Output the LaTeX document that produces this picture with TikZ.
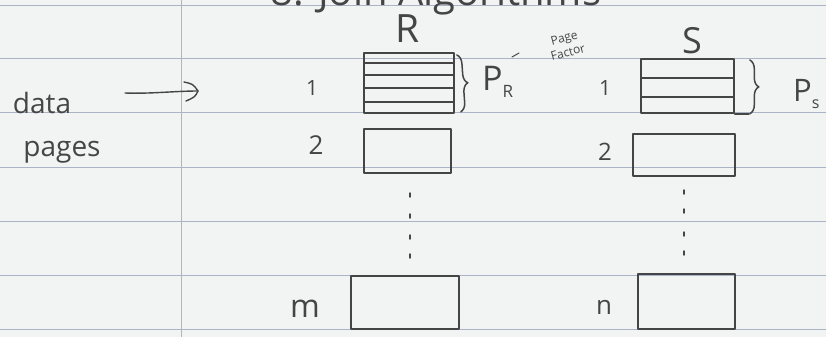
\documentclass[tikz,border=0pt]{standalone}
\usepackage{fontspec}
\setmainfont{Open Sans}
\usetikzlibrary{decorations.pathreplacing}
\definecolor{paper}{HTML}{F1F4F3}
\definecolor{rulecol}{HTML}{AAB4C6}
\definecolor{margincol}{HTML}{EE9C9C}
\definecolor{pencil}{HTML}{454545}
\tikzset{
  pen/.style={draw=pencil, line width=1.8pt, line cap=round, line join=round},
  pagebox/.style={pen, rectangle, inner sep=0pt, anchor=north west},
  hand/.style={text=pencil, inner sep=0pt},
  rowline/.style={draw=pencil, line width=1.3pt},
  bracemark/.style={pen, line width=1.5pt, decorate, decoration={brace, amplitude=9pt}},
  dotmark/.style={pen, line width=1.5pt},
  fs/.style={font=\fontsize{#1}{#1}\selectfont}
}
\begin{document}
\begin{tikzpicture}[x=1pt,y=-1pt]
\useasboundingbox (0,0) rectangle (826,337);
\clip (0,0) rectangle (826,337);
% paper
\fill[paper] (0,0) rectangle (826,337);
\foreach \yy in {5,58,112,167,221,275,329}
  \draw[rulecol, line width=0.9pt] (0,\yy) -- (826,\yy);
\draw[margincol, line width=0.9pt] (181,0) -- (181,337);

% title (cut off at the top, as in the scan)
\node[hand, fs=40, anchor=base] (title) at (436,6) {8. Join Algorithms};

% left label and arrow
\node[hand, fs=28, anchor=base] (data) at (42,113) {data};
\node[hand, fs=28, anchor=base] (pages) at (62,156) {pages};
\coordinate (a1) at (125,93);
\coordinate (a2) at (198,91);
\draw[pen, line width=1.4pt] (a1) .. controls (150,94) and (175,91) .. (a2);
\draw[pen, line width=1.4pt] (184,82) .. controls (193,84) .. (a2) .. controls (195,97) .. (186,101);

% relation R
\node[hand, fs=39, anchor=base] (R) at (408,43) {R};
\node[pagebox, minimum width=90pt, minimum height=60pt] (r1) at (363,52) {};
\foreach \d in {11,23,36,50}
  \draw[rowline] ([yshift=-\d pt]r1.north west) -- ([yshift=-\d pt]r1.north east);
\node[pagebox, minimum width=87pt, minimum height=44pt] (r2) at (363,128) {};
\node[pagebox, minimum width=108pt, minimum height=53pt] (rm) at (350,275) {};
\draw[bracemark] ([xshift=2pt,yshift=-3pt]r1.north east) -- ([xshift=6pt,yshift=2pt]r1.south east);
\node[hand, fs=34, anchor=base west] (pR) at (482,90) {P{\fontsize{17}{17}\selectfont\raisebox{-7pt}{R}}};
\draw[pen, line width=1pt] (512,57) -- (519,53);
\node[hand, fs=12, rotate=15, align=center, font=\fontsize{12}{15}\selectfont] (pf) at (566,45) {Page\\Factor};
\node[hand, fs=21, anchor=base] (r1n) at (312,95) {1};
\node[hand, fs=26, anchor=base] (r2n) at (316,154) {2};
\node[hand, fs=32, anchor=base] (rmn) at (305,317) {m};
\foreach \yy in {195,216,237,256}
  \draw[dotmark] (410,\yy-2) -- (410,\yy+2);

% relation S
\node[hand, fs=36, anchor=base] (S) at (692,53) {S};
\node[pagebox, minimum width=93pt, minimum height=54pt] (s1) at (640,58) {};
\foreach \d in {20,39}
  \draw[rowline] ([yshift=-\d pt]s1.north west) -- ([yshift=-\d pt]s1.north east);
\draw[pen] (s1.south east) -- ([xshift=14pt]s1.south east);
\draw[bracemark] ([xshift=15pt,yshift=-2pt]s1.north east) -- ([xshift=15pt]s1.south east);
\node[hand, fs=31, anchor=base west] (pS) at (793,101) {P{\fontsize{16}{16}\selectfont\raisebox{-7pt}{s}}};
\node[pagebox, minimum width=102pt, minimum height=42pt] (s2) at (632,133) {};
\node[pagebox, minimum width=97pt, minimum height=55pt] (sn) at (637,273) {};
\node[hand, fs=21, anchor=base] (s1n) at (605,95) {1};
\node[hand, fs=24, anchor=base] (s2n) at (605,160) {2};
\node[hand, fs=26, anchor=base] (snn) at (604,314) {n};
\foreach \yy in {192,211,234,253}
  \draw[dotmark] (684,\yy-2) -- (684,\yy+2);
\end{tikzpicture}
\end{document}
